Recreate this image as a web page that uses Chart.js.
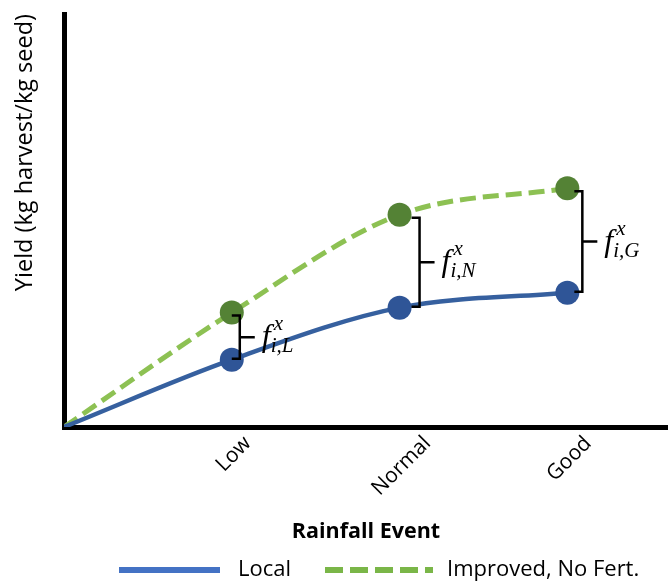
<!DOCTYPE html>
<html><head><meta charset="utf-8">
<script src="https://cdn.jsdelivr.net/npm/chart.js@4/dist/chart.umd.min.js"></script>
<style>html,body{margin:0;padding:0;background:#fff}#wrap{width:668px;height:581px;position:relative}</style>
</head><body><div id="wrap"><canvas id="c" width="668" height="581"></canvas></div>
<script>
// ---- data ----
const xValues = [0, 1, 2, 3];
const tickValues = [1, 2, 3];
const tickLabels = ['Low', 'Normal', 'Good'];
const localYield = [0, 16.3, 28.9, 32.5];
const improvedYield = [0, 27.7, 51.4, 57.8];
const seriesNames = ['Local', 'Improved, No Fert.'];
const gapSubscripts = ['L', 'N', 'G'];
const xTitle = 'Rainfall Event';
const yTitle = 'Yield (kg harvest/kg seed)';

// ---- styles ----
const BLUE_LINE = '#36609f', BLUE_PT = '#2f5597', BLUE_LEG = '#4472c4';
const GREEN_LINE = '#8dc153', GREEN_PT = '#548235', GREEN_LEG = '#7ab648';
const bracketGaps = [8, 20, 15];
const FONT = '"Open Sans", sans-serif';

const toXY = ys => xValues.map((x, i) => ({x: x, y: ys[i]}));

const bracketPlugin = {
  id: 'brackets',
  afterDatasetsDraw(chart) {
    const ctx = chart.ctx, xs = chart.scales.x, ys = chart.scales.y;
    ctx.save();
    tickValues.forEach((v, k) => {
      const i = xValues.indexOf(v);
      const px = xs.getPixelForValue(v);
      const yTop = ys.getPixelForValue(improvedYield[i]) + 3;
      const yBot = ys.getPixelForValue(localYield[i]) - 1;
      const bx = px + bracketGaps[k];
      const ym = (yTop + yBot) / 2;
      ctx.strokeStyle = '#000'; ctx.lineWidth = 2.5; ctx.lineJoin = 'miter';
      ctx.beginPath();
      ctx.moveTo(bx - 8, yTop); ctx.lineTo(bx, yTop); ctx.lineTo(bx, yBot); ctx.lineTo(bx - 8, yBot);
      ctx.moveTo(bx, ym); ctx.lineTo(bx + 15, ym);
      ctx.stroke();
      ctx.fillStyle = '#000'; ctx.textAlign = 'left'; ctx.textBaseline = 'alphabetic';
      ctx.font = 'italic 32px "Liberation Serif", serif';
      const fx = bx + 22;
      ctx.fillText('f', fx, ym + 9);
      const fw = ctx.measureText('f').width;
      ctx.font = 'italic 21px "Liberation Serif", serif';
      ctx.fillText('x', fx + fw + 3, ym - 7);
      ctx.fillText('i,' + gapSubscripts[k], fx + fw, ym + 15);
    });
    ctx.restore();
  },
  afterDraw(chart) {
    const ctx = chart.ctx, xs = chart.scales.x;
    ctx.save();
    // rotated category labels
    ctx.font = '21px ' + FONT; ctx.fillStyle = '#000';
    ctx.textAlign = 'center'; ctx.textBaseline = 'middle';
    tickLabels.forEach((t, k) => {
      const px = xs.getPixelForValue(tickValues[k]);
      const L = ctx.measureText(t).width;
      const cy = xs.top + 6 + (L + 20) * 0.3536;
      ctx.save(); ctx.translate(px + 2, cy); ctx.rotate(-Math.PI / 4); ctx.fillText(t, 0, 0); ctx.restore();
    });
    // legend
    const ly = 570;
    ctx.font = '22px ' + FONT; ctx.textAlign = 'left'; ctx.textBaseline = 'middle';
    ctx.lineWidth = 6; ctx.lineCap = 'butt';
    ctx.strokeStyle = BLUE_LEG; ctx.setLineDash([]);
    ctx.beginPath(); ctx.moveTo(119, ly); ctx.lineTo(220, ly); ctx.stroke();
    ctx.fillText(seriesNames[0], 238, ly);
    ctx.strokeStyle = GREEN_LEG; ctx.setLineDash([18, 7]);
    ctx.beginPath(); ctx.moveTo(325, ly); ctx.lineTo(433, ly); ctx.stroke();
    ctx.setLineDash([]);
    ctx.fillText(seriesNames[1], 447, ly);
    ctx.restore();
  }
};

new Chart(document.getElementById('c'), {
  type: 'line',
  data: {
    datasets: [
      {
        label: seriesNames[0], data: toXY(localYield),
        borderColor: BLUE_LINE, borderWidth: 4.5, cubicInterpolationMode: 'monotone',
        pointRadius: [0, 12, 12, 12], pointBackgroundColor: BLUE_PT, pointBorderWidth: 0,
        pointHoverRadius: [0, 12, 12, 12]
      },
      {
        label: seriesNames[1], data: toXY(improvedYield),
        borderColor: GREEN_LINE, borderWidth: 5, borderDash: [16, 7], cubicInterpolationMode: 'monotone',
        pointRadius: [0, 12, 12, 12], pointBackgroundColor: GREEN_PT, pointBorderWidth: 0,
        pointHoverRadius: [0, 12, 12, 12]
      }
    ]
  },
  options: {
    responsive: false, animation: false, devicePixelRatio: 1,
    layout: {autoPadding: false, padding: {top: 14, right: 0, bottom: 36, left: 0}},
    plugins: {legend: {display: false}, tooltip: {enabled: false}},
    scales: {
      x: {
        type: 'linear', min: 0, max: 3.6,
        grid: {display: false},
        border: {display: true, color: '#000', width: 5},
        ticks: {display: false},
        title: {display: true, text: xTitle, color: '#000', font: {family: FONT, size: 21.5, weight: 'bold'}, padding: {top: 0, bottom: 0}},
        afterFit: s => { s.height = 118; }
      },
      y: {
        min: 0, max: 100,
        grid: {display: false},
        border: {display: true, color: '#000', width: 5},
        ticks: {display: false},
        title: {display: true, text: yTitle, align: 'end', color: '#000', font: {family: FONT, size: 23.5}, padding: {top: 11, bottom: 0}},
        afterFit: s => { s.width = 64; }
      }
    }
  },
  plugins: [bracketPlugin]
});
</script>
</body></html>
